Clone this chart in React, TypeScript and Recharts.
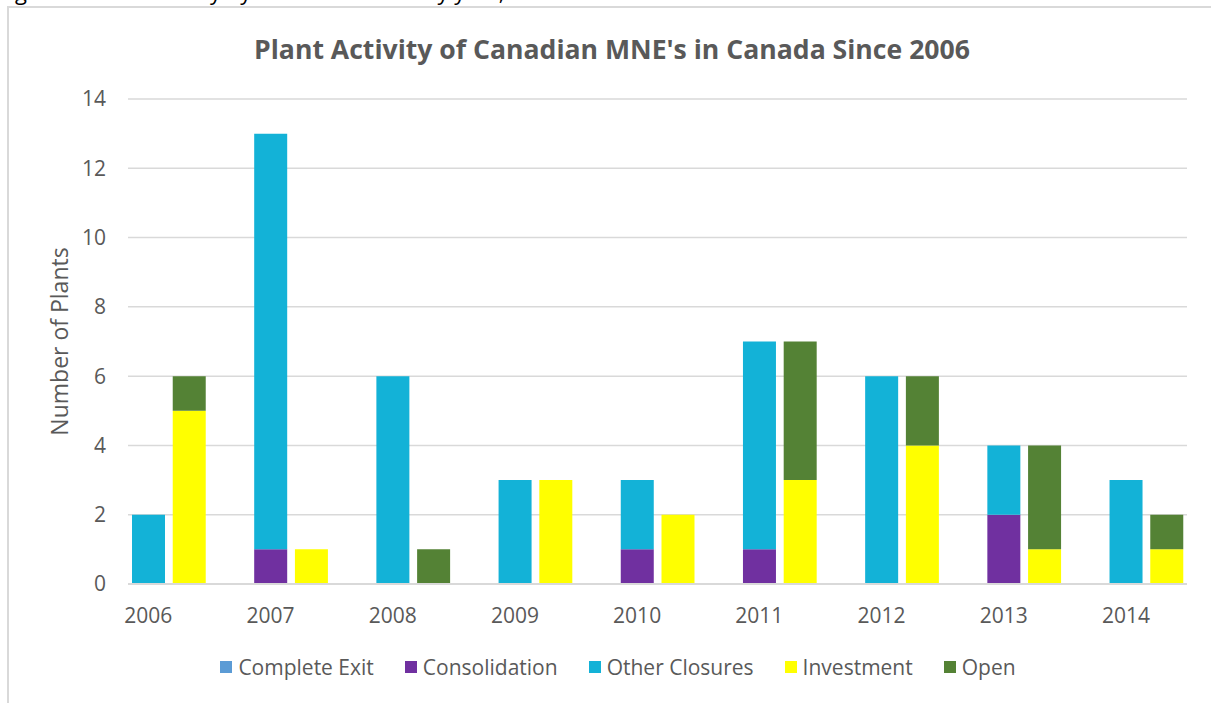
import { Bar, BarChart, CartesianGrid, Legend, XAxis, YAxis } from "recharts";

const years = ["2006", "2007", "2008", "2009", "2010", "2011", "2012", "2013", "2014"];
const completeExit = [0, 0, 0, 0, 0, 0, 0, 0, 0];
const consolidation = [0, 1, 0, 0, 1, 1, 0, 2, 0];
const otherClosures = [2, 12, 6, 3, 2, 6, 6, 2, 3];
const investment = [5, 1, 0, 3, 2, 3, 4, 1, 1];
const openings = [1, 0, 1, 0, 0, 4, 2, 3, 1];
const yTicks = [0, 2, 4, 6, 8, 10, 12, 14];

const series = [
    { key: "completeExit", name: "Complete Exit", color: "#5B9BD5" },
    { key: "consolidation", name: "Consolidation", color: "#7030A0" },
    { key: "otherClosures", name: "Other Closures", color: "#13B2D7" },
    { key: "investment", name: "Investment", color: "#FFFF00" },
    { key: "open", name: "Open", color: "#548235" },
];

// each year: closures column, openings column, then an empty slot as spacer
const rows: any[] = [];
years.forEach((y, i) => {
    rows.push({
        key: `${y}-c`,
        label: y,
        completeExit: completeExit[i],
        consolidation: consolidation[i],
        otherClosures: otherClosures[i],
    });
    rows.push({ key: `${y}-o`, label: "", investment: investment[i], open: openings[i] });
    if (i < years.length - 1) rows.push({ key: `${y}-gap`, label: "" });
});
const labelByKey: Record<string, string> = {};
rows.forEach((r) => (labelByKey[r.key] = r.label));

const FONT = "'Open Sans', sans-serif";
const GREY = "#595959";

const LegendContent = () => (
    <div
        style={{
            display: "flex",
            justifyContent: "center",
            gap: 31,
            fontFamily: FONT,
            fontSize: 21,
            color: GREY,
        }}
    >
        {series.map((s) => (
            <div key={s.key} style={{ display: "flex", alignItems: "center" }}>
                <span style={{ width: 12, height: 12, background: s.color, marginRight: 6 }} />
                <span>{s.name}</span>
            </div>
        ))}
    </div>
);

export default function App() {
    return (
        <div style={{ position: "absolute", left: 0, top: 0, width: 1211, height: 703, overflow: "hidden", background: "#fff" }}>
            <div style={{ position: "absolute", left: 0, top: 0, width: 1211, height: 7, overflow: "hidden" }}>
                <div
                    style={{
                        position: "absolute",
                        left: -2,
                        top: -24,
                        whiteSpace: "nowrap",
                        fontFamily: FONT,
                        fontSize: 22,
                        color: "#000",
                    }}
                >
                    Figure 1: Plant activity by Canadian MNEs by year, 2006-2014
                </div>
            </div>
            <div
                style={{
                    position: "absolute",
                    left: 7,
                    top: 6,
                    width: 1220,
                    height: 710,
                    borderLeft: "2px solid #d9d9d9",
                    borderTop: "2px solid #d9d9d9",
                }}
            />
            <div
                style={{
                    position: "absolute",
                    top: 31,
                    left: 0,
                    width: 1224,
                    textAlign: "center",
                    fontFamily: FONT,
                    fontWeight: 700,
                    fontSize: 26.6,
                    color: GREY,
                }}
            >
                Plant Activity of Canadian MNE's in Canada Since 2006
            </div>
            <div style={{ position: "absolute", left: 0, top: 0 }}>
                <BarChart
                    width={1211}
                    height={703}
                    data={rows}
                    margin={{ top: 99, right: 24, left: 68, bottom: 79 }}
                    barCategoryGap={4}
                    style={{ fontFamily: FONT }}
                >
                    <CartesianGrid vertical={false} stroke="#d9d9d9" strokeWidth={1.5} />
                    <XAxis
                        dataKey="key"
                        height={40}
                        interval={0}
                        axisLine={{ stroke: "#d9d9d9", strokeWidth: 2 }}
                        tickLine={false}
                        tickMargin={18}
                        tick={{ fill: GREY, fontSize: 21 }}
                        tickFormatter={(k) => labelByKey[k] ?? ""}
                    />
                    <YAxis
                        width={60}
                        domain={[0, 14]}
                        ticks={yTicks}
                        axisLine={false}
                        tickLine={false}
                        tickMargin={16}
                        tick={{ fill: GREY, fontSize: 21 }}
                        label={{
                            content: ({ viewBox }: any) => (
                                <text
                                    x={59}
                                    y={viewBox.y + viewBox.height / 2}
                                    transform={`rotate(-90 59 ${viewBox.y + viewBox.height / 2})`}
                                    textAnchor="middle"
                                    dominantBaseline="central"
                                    fill={GREY}
                                    fontSize={23}
                                    fontFamily={FONT}
                                >
                                    Number of Plants
                                </text>
                            ),
                        }}
                    />
                    <Legend
                        verticalAlign="middle"
                        content={<LegendContent />}
                        wrapperStyle={{ top: 653, left: 6, width: 1224 }}
                    />
                    {series.map((s) => (
                        <Bar
                            key={s.key}
                            dataKey={s.key}
                            name={s.name}
                            stackId="a"
                            fill={s.color}
                            isAnimationActive={false}
                        />
                    ))}
                </BarChart>
            </div>
        </div>
    );
}
